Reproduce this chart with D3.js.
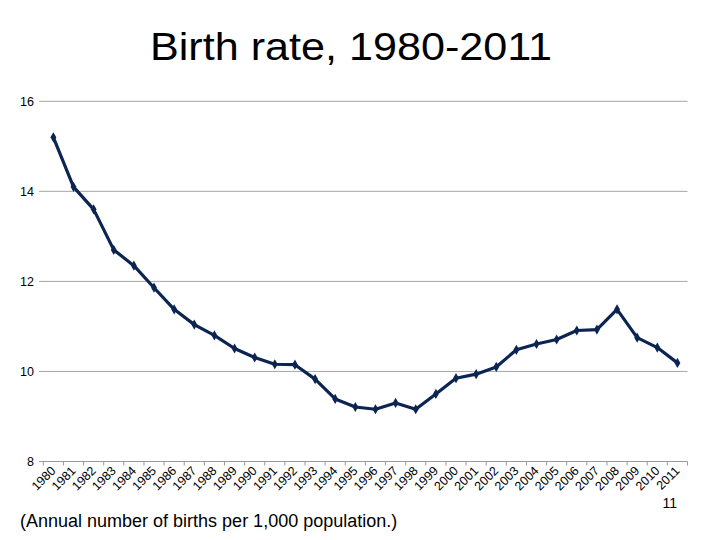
<!DOCTYPE html>
<html><head><meta charset="utf-8">
<script src="https://cdn.jsdelivr.net/npm/d3@7"></script>
<style>body{margin:0;background:#fff}svg{display:block}</style>
</head><body>
<script>
const years = ["1980","1981","1982","1983","1984","1985","1986","1987","1988","1989","1990","1991","1992","1993","1994","1995","1996","1997","1998","1999","2000","2001","2002","2003","2004","2005","2006","2007","2008","2009","2010","2011"];
const birthRate = [15.2,14.1,13.6,12.7,12.35,11.86,11.38,11.04,10.8,10.51,10.31,10.16,10.15,9.83,9.39,9.21,9.16,9.3,9.16,9.5,9.85,9.94,10.1,10.48,10.61,10.71,10.91,10.93,11.38,10.75,10.53,10.19];
const yTicks = [8,10,12,14,16];
const titleText = "Birth rate, 1980-2011";
const subtitleText = "(Annual number of births per 1,000 population.)";
const pageNumber = "11";

const W=720,H=540;
const svg=d3.select("body").append("svg").attr("width",W).attr("height",H);
const font="Liberation Sans, Arial, sans-serif";
const x=d3.scaleBand().domain(years).range([43.3,687.5]);
const y=d3.scaleLinear().domain([8,16]).range([461.5,101.3]);

svg.append("text").attr("x",150).attr("y",60)
  .attr("textLength",402).attr("lengthAdjust","spacingAndGlyphs")
  .attr("font-family",font).attr("font-size",38).attr("fill","#000").text(titleText);

// gridlines
svg.append("g").selectAll("line").data(yTicks.filter(d=>d!==8)).join("line")
  .attr("x1",39).attr("x2",687.5).attr("y1",d=>y(d)).attr("y2",d=>y(d))
  .attr("stroke","#a6a6a6").attr("stroke-width",1);
// y labels
svg.append("g").selectAll("text").data(yTicks).join("text")
  .attr("x",34).attr("y",d=>y(d)+4.5).attr("text-anchor","end")
  .attr("font-family",font).attr("font-size",12.5).attr("fill","#000").text(d=>d);

// x axis
const xAxis=svg.append("g");
xAxis.append("line").attr("x1",39).attr("x2",687.5).attr("y1",y(8)).attr("y2",y(8)).attr("stroke","#999").attr("stroke-width",1);
const tickPos=years.map(d=>x(d)).concat([x.range()[1]]);
xAxis.selectAll("line.t").data(tickPos).join("line").attr("class","t")
  .attr("x1",d=>d).attr("x2",d=>d).attr("y1",y(8)).attr("y2",y(8)+4).attr("stroke","#999");
xAxis.selectAll("text").data(years).join("text")
  .attr("transform",d=>`translate(${x(d)+x.bandwidth()/2+3},${y(8)+10}) rotate(-45)`)
  .attr("text-anchor","end").attr("font-family",font).attr("font-size",12.5).attr("fill","#000").text(d=>d);

// line
const pts=years.map((d,i)=>[x(d)+x.bandwidth()/2,y(birthRate[i])]);
svg.append("path").attr("d",d3.line()(pts)).attr("fill","none").attr("stroke","#0c2452").attr("stroke-width",3.2).attr("stroke-linejoin","round");
svg.append("g").selectAll("path").data(pts).join("path")
  .attr("d",d3.symbol(d3.symbolDiamond,30)())
  .attr("transform",d=>`translate(${d[0]},${d[1]})`).attr("fill","#0c2452");

svg.append("text").attr("x",20).attr("y",527).attr("font-family",font).attr("font-size",18).attr("fill","#000").text(subtitleText);
svg.append("text").attr("x",677).attr("y",508).attr("text-anchor","end").attr("font-family",font).attr("font-size",14).attr("fill","#000").text(pageNumber);
</script>
</body></html>
